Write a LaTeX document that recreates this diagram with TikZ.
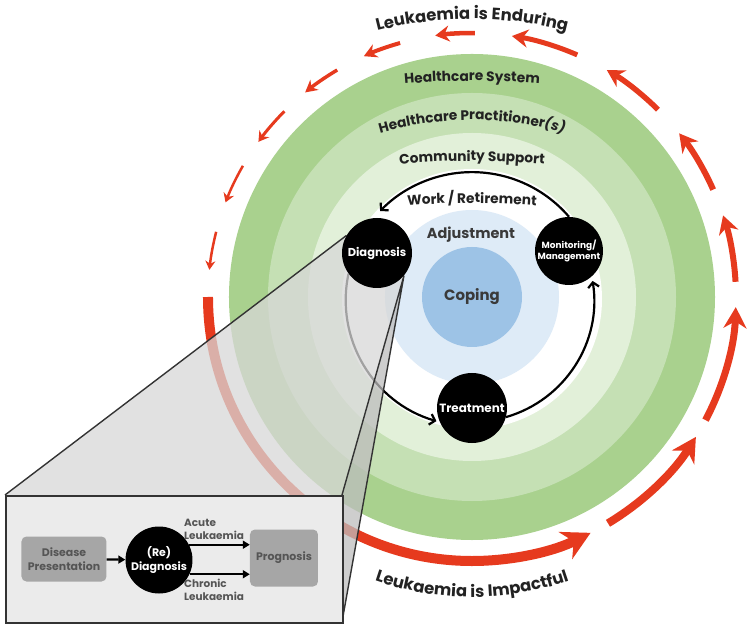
\documentclass[tikz,border=0pt]{standalone}
\usepackage{fontspec}
\setmainfont{Poppins}
\usetikzlibrary{arrows.meta,decorations.text,calc}
\definecolor{gA}{HTML}{A9D18E}
\definecolor{gB}{HTML}{C5E0B4}
\definecolor{gC}{HTML}{E2F0D9}
\definecolor{bA}{HTML}{DEEBF7}
\definecolor{bB}{HTML}{9DC3E6}
\definecolor{redA}{HTML}{E63A1E}
\definecolor{labcol}{HTML}{222222}
\definecolor{midcol}{HTML}{3A3A3A}
\definecolor{shadeA}{HTML}{D7D7D7}
\definecolor{shadeB}{HTML}{BDBDBD}
\definecolor{boxfill}{HTML}{EBEBEB}
\definecolor{boxline}{HTML}{333333}
\definecolor{gboxfill}{HTML}{A6A6A6}
\definecolor{gboxtext}{HTML}{555555}
\newcommand\lkfont{\fontsize{16.5}{16.5}\selectfont\bfseries\color{labcol}}
\newcommand\ringfont{\fontsize{13.8}{13.8}\selectfont\bfseries\color{labcol}}
\pgfdeclarelayer{shade}
\pgfdeclarelayer{front}
\pgfsetlayers{main,shade,front}
\tikzset{
  bignode/.style={circle, fill=black, text=white, minimum size=70bp, inner sep=0pt,
    align=center, font=\fontsize{11.5}{12}\selectfont\bfseries},
  cyc/.style={line width=2.2bp, black, -{Straight Barb[length=5bp,width=11bp]}},
  gbox/.style={rectangle, rounded corners=5bp, fill=gboxfill, text=gboxtext, inner sep=0pt,
    align=center, font=\fontsize{11}{14}\selectfont\bfseries},
  inarr/.style={line width=2.2bp, black, -{Triangle[length=7bp,width=8bp]}},
  inlab/.style={inner sep=0pt, align=left, text=gboxtext, font=\fontsize{10.5}{13}\selectfont\bfseries},
  coneline/.style={draw=boxline, line width=1.4bp},
  curvedtext/.style={decorate, decoration={text along path, text align=center, text={#1}}}
}
\begin{document}
\begin{tikzpicture}[x=1bp,y=1bp]
\useasboundingbox (-472,-330) rectangle (279,297);
% rings
\fill[gA] (0,0) circle[radius=243bp];
\fill[gB] (0,0) circle[radius=204bp];
\fill[gC] (0,0) circle[radius=164bp];
\fill[white] (0,-2) circle[radius=130bp];
\fill[bA] (0,0) circle[radius=87bp];
\fill[bB] (0,0) circle[radius=50bp];
% red arrows
\foreach \a/\b/\w/\L/\W in {180/296.7/10/28/30, 301/328/8/24/26, 332.2/357.8/7/21/23,
  3.3/18/6/18/20, 24/38.3/6/18/20, 45.2/59.3/5.5/17/19, 66.5/81.3/5/16/18,
  89.4/98/4.5/14/16, 105.8/114.2/4/13/14, 120.7/129.2/3.5/12/13, 135.3/144/3/10/12,
  150.2/159/2.5/9/11, 165.7/174.1/2.5/9/10}
{\draw[redA, line width=\w bp, -{Stealth[length=\L bp,width=\W bp]}]
   (\a:264bp) arc[start angle=\a, end angle=\b, radius=264bp];}
% curved labels
\path[curvedtext={|\lkfont|Leukaemia is Enduring}]
  ([shift={(120:380bp)}]0,-102) arc[start angle=120, end angle=60, radius=380bp];
\path[curvedtext={|\lkfont|Leukaemia is Impactful}]
  ([shift={(235:300bp)}]0,0) arc[start angle=235, end angle=305, radius=300bp];
\path[curvedtext={|\ringfont|Healthcare System}]
  ([shift={(98:800bp)}]0,-584) arc[start angle=98, end angle=82, radius=800bp];
\path[curvedtext={|\ringfont|Healthcare Practitioner|\ringfont\itshape|(s)}]
  ([shift={(115:330bp)}]0,-153) arc[start angle=115, end angle=65, radius=330bp];
\path[curvedtext={|\ringfont|Community Support}]
  ([shift={(98:800bp)}]0,-664) arc[start angle=98, end angle=82, radius=800bp];
\path[curvedtext={|\ringfont|Work / Retirement}]
  ([shift={(98:800bp)}]0,-706) arc[start angle=98, end angle=82, radius=800bp];
\node[font=\fontsize{14.5}{15}\selectfont\bfseries, text=midcol] (adj) at (-1,62) {Adjustment};
\node[font=\fontsize{15}{15}\selectfont\bfseries, text=midcol] (coping) at (0,0) {Coping};
% stage nodes
\begin{pgfonlayer}{front}
\node[bignode] (diag) at (-95,44) {Diagnosis};
\node[bignode, minimum size=68bp, font=\fontsize{9}{10.5}\selectfont\bfseries] (mon) at (97,46) {Monitoring/\\Management};
\node[bignode, font=\fontsize{12}{12}\selectfont\bfseries] (treat) at (0,-111) {Treatment};
\end{pgfonlayer}
% cycle arrows
\draw[cyc] (mon.north) arc[start angle=40.55, end angle=136, radius=127.7bp];
\draw[cyc] (diag.216) arc[start angle=167.9, end angle=253.7, radius=126.1bp];
\draw[cyc] (treat.-15) arc[start angle=-73.9, end angle=9, radius=121.9bp];
% zoom cone and inset
\begin{pgfonlayer}{shade}
\coordinate (btl) at (-467,-198);
\coordinate (btr) at (-130,-198);
\coordinate (bbr) at (-130,-325);
\fill[shadeA, opacity=.75] (btl) -- (diag.150) -- (diag.-40) -- (btr) -- cycle;
\fill[shadeB, opacity=.75] (btr) -- (diag.-40) -- (bbr) -- cycle;
\draw[coneline] (btl) -- (diag.150);
\draw[coneline] (btr) -- (diag.-40) -- (bbr);
\node[draw=boxline, fill=boxfill, line width=2bp, minimum width=337bp, minimum height=127bp,
  anchor=north west, inner sep=0pt] (boxface) at (btl) {};
\node[gbox, minimum width=85bp, minimum height=45bp] (dis) at (-408,-262) {Disease\\Presentation};
\node[circle, fill=black, text=white, minimum size=67bp, inner sep=0pt, align=center,
  font=\fontsize{11}{14}\selectfont\bfseries] (rediag) at (-313,-263) {(Re)\\Diagnosis};
\node[gbox, minimum width=68bp, minimum height=57bp] (prog) at (-188,-261) {Prognosis};
\draw[inarr] (dis) -- (rediag);
\draw[inarr] (rediag.27) -- (rediag.27 -| prog.west);
\draw[inarr] (rediag.-25) -- (rediag.-25 -| prog.west);
\node[inlab, anchor=south west] (acute) at (-288,-243) {Acute\\Leukaemia};
\node[inlab, anchor=north west] (chronic) at (-288,-282) {Chronic\\Leukaemia};
\end{pgfonlayer}
\end{tikzpicture}
\end{document}
